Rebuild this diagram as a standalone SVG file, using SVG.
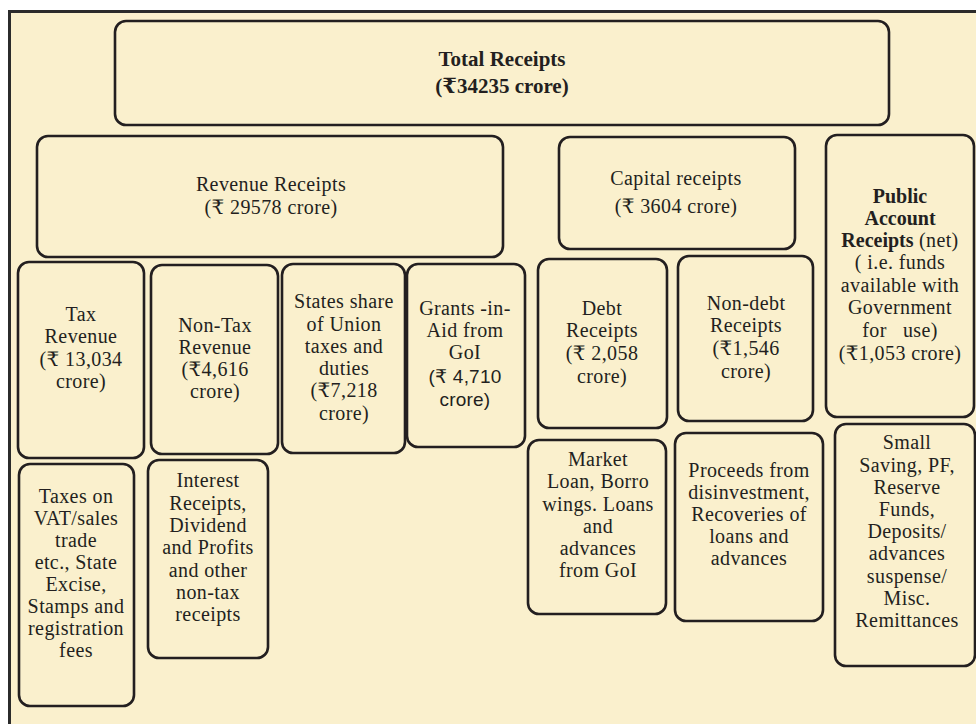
<svg xmlns="http://www.w3.org/2000/svg" width="976" height="724" viewBox="0 0 976 724">
<style>
.bx{fill:none;stroke:#231f20;stroke-width:2.6}
.t{font-family:"Liberation Serif","DejaVu Serif","Noto Sans",serif;font-size:20px;letter-spacing:0.4px;fill:#231f20;text-anchor:middle}
.b{font-weight:bold}
.s{font-family:"Liberation Sans","DejaVu Sans",sans-serif;font-size:19px;letter-spacing:0.2px}
</style>
<rect x="0" y="0" width="976" height="724" fill="#ffffff"/>
<rect x="9" y="11" width="967" height="713" fill="#faf0cd"/>
<path d="M9.5 724 V11.5 H976" fill="none" stroke="#2b2b2b" stroke-width="3"/>
<g id="connectors"/>
<g id="total">
<rect class="bx" x="115" y="21" width="774" height="104" rx="11"/>
<text class="t b" x="502" y="66" style="font-size:21px;letter-spacing:0">Total Receipts</text>
<text class="t b" x="502" y="93" style="font-size:21px;letter-spacing:0">(₹34235 crore)</text>
</g>
<g id="revenue">
<rect class="bx" x="37" y="136" width="466" height="121" rx="11"/>
<text class="t" x="271" y="191">Revenue Receipts</text>
<text class="t" x="271" y="214">(₹ 29578 crore)</text>
</g>
<g id="capital">
<rect class="bx" x="559" y="137" width="236" height="112" rx="11"/>
<text class="t" x="676" y="185">Capital receipts</text>
<text class="t" x="676" y="213">(₹ 3604 crore)</text>
</g>
<g id="public">
<rect class="bx" x="826" y="135" width="148" height="282" rx="11"/>
<text class="t b" x="900" y="203" style="letter-spacing:0">Public</text>
<text class="t b" x="900" y="225" style="letter-spacing:0">Account</text>
<text class="t" x="900" y="247"><tspan class="b" style="letter-spacing:0">Receipts</tspan> (net)</text>
<text class="t" x="900" y="269">( i.e. funds</text>
<text class="t" x="900" y="292">available with</text>
<text class="t" x="900" y="314">Government</text>
<text class="t" x="900" y="337" xml:space="preserve">for   use)</text>
<text class="t" x="900" y="360">(₹1,053 crore)</text>
</g>
<g id="tax">
<rect class="bx" x="18" y="262" width="126" height="196" rx="11"/>
<text class="t" x="81" y="321">Tax</text>
<text class="t" x="81" y="343">Revenue</text>
<text class="t" x="81" y="366">(₹ 13,034</text>
<text class="t" x="81" y="388">crore)</text>
</g>
<g id="nontax">
<rect class="bx" x="151" y="265" width="127" height="189" rx="11"/>
<text class="t" x="215" y="332">Non-Tax</text>
<text class="t" x="215" y="354">Revenue</text>
<text class="t" x="215" y="376">(₹4,616</text>
<text class="t" x="215" y="398">crore)</text>
</g>
<g id="states">
<rect class="bx" x="282" y="264" width="123" height="189" rx="11"/>
<text class="t" x="344" y="308">States share</text>
<text class="t" x="344" y="331">of Union</text>
<text class="t" x="344" y="353">taxes and</text>
<text class="t" x="344" y="375">duties</text>
<text class="t" x="344" y="397">(₹7,218</text>
<text class="t" x="344" y="420">crore)</text>
</g>
<g id="grants">
<rect class="bx" x="407" y="264" width="118" height="183" rx="11"/>
<text class="t" x="465" y="315">Grants -in-</text>
<text class="t" x="465" y="337">Aid from</text>
<text class="t" x="465" y="359">GoI</text>
<text class="t s" x="465" y="383">(₹ 4,710</text>
<text class="t s" x="465" y="406">crore)</text>
</g>
<g id="debt">
<rect class="bx" x="538" y="259" width="129" height="169" rx="11"/>
<text class="t" x="602" y="315">Debt</text>
<text class="t" x="602" y="337">Receipts</text>
<text class="t" x="602" y="360">(₹ 2,058</text>
<text class="t" x="602" y="383">crore)</text>
</g>
<g id="nondebt">
<rect class="bx" x="678" y="256" width="135" height="165" rx="11"/>
<text class="t" x="746" y="310">Non-debt</text>
<text class="t" x="746" y="332">Receipts</text>
<text class="t" x="746" y="355">(₹1,546</text>
<text class="t" x="746" y="378">crore)</text>
</g>
<g id="vat">
<rect class="bx" x="19" y="464" width="115" height="242" rx="11"/>
<text class="t" x="76" y="503">Taxes on</text>
<text class="t" x="76" y="525">VAT/sales</text>
<text class="t" x="76" y="547">trade</text>
<text class="t" x="76" y="569">etc., State</text>
<text class="t" x="76" y="591">Excise,</text>
<text class="t" x="76" y="613">Stamps and</text>
<text class="t" x="76" y="635">registration</text>
<text class="t" x="76" y="657">fees</text>
</g>
<g id="interest">
<rect class="bx" x="148" y="460" width="120" height="198" rx="11"/>
<text class="t" x="208" y="487">Interest</text>
<text class="t" x="208" y="510">Receipts,</text>
<text class="t" x="208" y="532">Dividend</text>
<text class="t" x="208" y="554">and Profits</text>
<text class="t" x="208" y="577">and other</text>
<text class="t" x="208" y="599">non-tax</text>
<text class="t" x="208" y="621">receipts</text>
</g>
<g id="market">
<rect class="bx" x="528" y="440" width="138" height="174" rx="11"/>
<text class="t" x="598" y="466">Market</text>
<text class="t" x="598" y="488">Loan, Borro</text>
<text class="t" x="598" y="511">wings. Loans</text>
<text class="t" x="598" y="533">and</text>
<text class="t" x="598" y="555">advances</text>
<text class="t" x="598" y="577">from GoI</text>
</g>
<g id="proceeds">
<rect class="bx" x="675" y="433" width="148" height="188" rx="11"/>
<text class="t" x="749" y="477">Proceeds from</text>
<text class="t" x="749" y="499">disinvestment,</text>
<text class="t" x="749" y="521">Recoveries of</text>
<text class="t" x="749" y="543">loans and</text>
<text class="t" x="749" y="565">advances</text>
</g>
<g id="small">
<rect class="bx" x="835" y="424" width="140" height="242" rx="11"/>
<text class="t" x="907" y="449">Small</text>
<text class="t" x="907" y="472">Saving, PF,</text>
<text class="t" x="907" y="494">Reserve</text>
<text class="t" x="907" y="516">Funds,</text>
<text class="t" x="907" y="538">Deposits/</text>
<text class="t" x="907" y="560">advances</text>
<text class="t" x="907" y="583">suspense/</text>
<text class="t" x="907" y="605">Misc.</text>
<text class="t" x="907" y="627">Remittances</text>
</g>
</svg>
